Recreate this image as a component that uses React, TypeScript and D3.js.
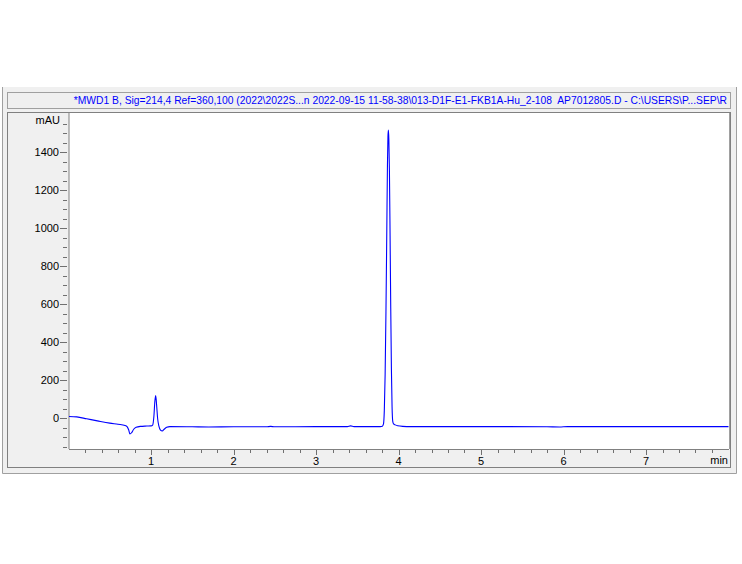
import React from 'react';
import * as d3 from 'd3';

// chromatogram trace (min, mAU)
const traceTime = [
  0, 0.1, 0.22, 0.35, 0.5, 0.6, 0.685, 0.71, 0.73, 0.745, 0.765, 0.79, 0.82, 0.87, 0.95, 1.0, 1.02,
  1.035, 1.047, 1.057, 1.068, 1.08, 1.095, 1.115, 1.137, 1.16, 1.19, 1.23, 1.5, 1.7, 2.0, 2.4, 2.45,
  2.5, 3.0, 3.38, 3.42, 3.46, 3.78, 3.805, 3.818, 3.828, 3.838, 3.848, 3.858, 3.866, 3.872, 3.877,
  3.883, 3.89, 3.898, 3.906, 3.914, 3.922, 3.93, 3.94, 3.96, 3.99, 4.05, 4.15, 5.0, 5.8, 5.95, 6.05,
  7.0, 8.0,
];
const traceMAU = [
  9, 7, -3, -14, -26, -32, -38, -44, -62, -83, -76, -58, -48, -43, -41, -40, -36,
  10, 90, 119, 70, 0, -40, -62, -67, -58, -48, -44, -45, -46, -45, -45, -43,
  -45, -44, -44, -40, -44, -44, -42, -30, 40, 230, 560, 980, 1330, 1480, 1517,
  1470, 1300, 960, 580, 260, 60, -15, -30, -35, -40, -43, -44, -44, -45, -46, -44,
  -44, -44,
];

const xMajorTicks = [1, 2, 3, 4, 5, 6, 7];
const xMinorTicks = d3.range(1, 40).map(i => i / 5);
const yMajorTicks = [0, 200, 400, 600, 800, 1000, 1200, 1400];
const yMinorTicks = d3.range(-3, 32).map(i => i * 50);

const title =
  '*MWD1 B, Sig=214,4 Ref=360,100 (2022\\2022S...n 2022-09-15 11-58-38\\013-D1F-E1-FKB1A-Hu_2-108  AP7012805.D - C:\\USERS\\P...SEP\\R';

const W = 742;
const H = 564;
const plot = { left: 69, top: 113, right: 729, bottom: 449 };
const font = '"Liberation Sans", Arial, sans-serif';

const App: React.FC = () => {
  const x = d3.scaleLinear().domain([0, 8]).range([68.5, 728.5]);
  const y = d3.scaleLinear().domain([-162, 1607]).range([449, 113]);

  const line = d3
    .line<number>()
    .x((_, i) => x(traceTime[i]))
    .y(d => y(d))
    .curve(d3.curveMonotoneX);

  return (
    <div style={{ position: 'absolute', left: 0, top: 0 }}>
      <svg width={W} height={H} style={{ display: 'block', background: '#fff' }}>
        <defs>
          <clipPath id="plotClip">
            <rect x={plot.left} y={plot.top} width={plot.right - plot.left} height={plot.bottom - plot.top} />
          </clipPath>
        </defs>

        {/* outer window */}
        <rect x={2.5} y={87} width={734} height={386.5} fill="#f0f0f0" />
        <line x1={2.5} x2={2.5} y1={87} y2={473.5} stroke="#a0a0a0" />
        <line x1={2.5} x2={736.5} y1={473.5} y2={473.5} stroke="#a0a0a0" />
        <line x1={736.5} x2={736.5} y1={87} y2={473.5} stroke="#a0a0a0" />

        {/* title bar */}
        <rect x={7.5} y={92.5} width={723} height={16} fill="#f0f0f0" stroke="#a0a0a0" />
        <text
          x={727}
          y={104}
          textAnchor="end"
          fontFamily={font}
          fontSize={10.3}
          fill="#0000ff"
          style={{ whiteSpace: 'pre' }}
        >
          {title}
        </text>

        {/* chart panel */}
        <rect x={7.5} y={112.5} width={723} height={355} fill="#f0f0f0" stroke="#808080" />
        <rect
          x={plot.left}
          y={plot.top}
          width={plot.right - plot.left}
          height={plot.bottom - plot.top}
          fill="#fff"
        />
        <line x1={plot.left} x2={plot.left} y1={plot.top} y2={plot.bottom} stroke="#808080" />
        <line x1={plot.right + 0.5} x2={plot.right + 0.5} y1={plot.top} y2={plot.bottom} stroke="#a0a0a0" />
        <line x1={plot.left} x2={plot.right} y1={plot.bottom + 0.5} y2={plot.bottom + 0.5} stroke="#808080" />

        {/* y axis */}
        {yMinorTicks.map(v => (
          <line
            key={`ym${v}`}
            x1={63}
            x2={67}
            y1={Math.round(y(v)) + 0.5}
            y2={Math.round(y(v)) + 0.5}
            stroke="#707070"
          />
        ))}
        {yMajorTicks.map(v => (
          <g key={`y${v}`}>
            <line
              x1={60}
              x2={67}
              y1={Math.round(y(v)) + 0.5}
              y2={Math.round(y(v)) + 0.5}
              stroke="#707070"
            />
            <text x={59} y={y(v) + 4} textAnchor="end" fontFamily={font} fontSize={11} fill="#000">
              {v}
            </text>
          </g>
        ))}
        <text x={60} y={124} textAnchor="end" fontFamily={font} fontSize={11} fill="#000">
          mAU
        </text>

        {/* x axis */}
        {xMinorTicks.map(v => (
          <line
            key={`xm${v}`}
            x1={Math.round(x(v)) + 0.5}
            x2={Math.round(x(v)) + 0.5}
            y1={450}
            y2={453}
            stroke="#707070"
          />
        ))}
        {xMajorTicks.map(v => (
          <g key={`x${v}`}>
            <line
              x1={Math.round(x(v)) + 0.5}
              x2={Math.round(x(v)) + 0.5}
              y1={450}
              y2={455}
              stroke="#707070"
            />
            <text x={x(v)} y={465} textAnchor="middle" fontFamily={font} fontSize={11} fill="#000">
              {v}
            </text>
          </g>
        ))}
        <text x={728} y={464} textAnchor="end" fontFamily={font} fontSize={11} fill="#000">
          min
        </text>

        {/* signal */}
        <path
          d={line(traceMAU) ?? ''}
          fill="none"
          stroke="#0000ff"
          strokeWidth={1.1}
          clipPath="url(#plotClip)"
        />
      </svg>
    </div>
  );
};

export default App;
